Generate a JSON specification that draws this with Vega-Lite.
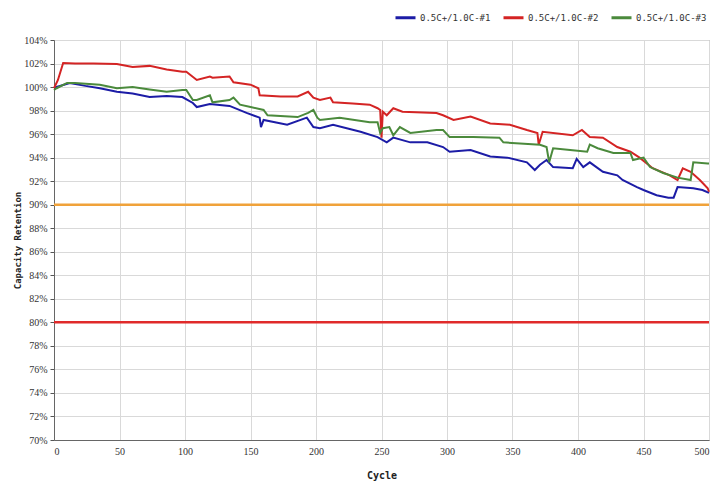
{
  "$schema": "https://vega.github.io/schema/vega-lite/v6.json",
  "width": 655,
  "height": 400,
  "autosize": {"type": "none"},
  "padding": {"left": 54, "top": 40, "right": 12, "bottom": 54},
  "background": "white",
  "config": {
    "view": {"stroke": "#9a9a9a", "strokeWidth": 1},
    "axis": {
      "labelFont": "Liberation Serif",
      "labelFontSize": 10,
      "labelColor": "#333",
      "labelOverlap": false,
      "titleFont": "DejaVu Sans Mono",
      "titleFontWeight": "bold",
      "titleFontSize": 9,
      "titleColor": "#222",
      "gridColor": "#d9d9d9",
      "gridWidth": 1,
      "domainColor": "#666",
      "tickColor": "#555",
      "tickSize": 4
    }
  },
  "datasets": {
    "series": [
      {"s":"0.5C+/1.0C-#1","c":0,"v":99.9},{"s":"0.5C+/1.0C-#1","c":2,"v":100.0},{"s":"0.5C+/1.0C-#1","c":12,"v":100.35},{"s":"0.5C+/1.0C-#1","c":24,"v":100.1},{"s":"0.5C+/1.0C-#1","c":35,"v":99.9},{"s":"0.5C+/1.0C-#1","c":48,"v":99.6},{"s":"0.5C+/1.0C-#1","c":60,"v":99.45},{"s":"0.5C+/1.0C-#1","c":73,"v":99.15},{"s":"0.5C+/1.0C-#1","c":86,"v":99.25},{"s":"0.5C+/1.0C-#1","c":98,"v":99.15},{"s":"0.5C+/1.0C-#1","c":106,"v":98.65},{"s":"0.5C+/1.0C-#1","c":109,"v":98.3},{"s":"0.5C+/1.0C-#1","c":119,"v":98.55},{"s":"0.5C+/1.0C-#1","c":134,"v":98.4},{"s":"0.5C+/1.0C-#1","c":147,"v":97.8},{"s":"0.5C+/1.0C-#1","c":157,"v":97.4},{"s":"0.5C+/1.0C-#1","c":158,"v":96.6},{"s":"0.5C+/1.0C-#1","c":160,"v":97.2},{"s":"0.5C+/1.0C-#1","c":178,"v":96.8},{"s":"0.5C+/1.0C-#1","c":193,"v":97.4},{"s":"0.5C+/1.0C-#1","c":198,"v":96.6},{"s":"0.5C+/1.0C-#1","c":203,"v":96.5},{"s":"0.5C+/1.0C-#1","c":213,"v":96.8},{"s":"0.5C+/1.0C-#1","c":234,"v":96.2},{"s":"0.5C+/1.0C-#1","c":247,"v":95.75},{"s":"0.5C+/1.0C-#1","c":254,"v":95.3},{"s":"0.5C+/1.0C-#1","c":259,"v":95.7},{"s":"0.5C+/1.0C-#1","c":272,"v":95.3},{"s":"0.5C+/1.0C-#1","c":285,"v":95.3},{"s":"0.5C+/1.0C-#1","c":297,"v":94.9},{"s":"0.5C+/1.0C-#1","c":302,"v":94.5},{"s":"0.5C+/1.0C-#1","c":318,"v":94.65},{"s":"0.5C+/1.0C-#1","c":333,"v":94.1},{"s":"0.5C+/1.0C-#1","c":346,"v":94.0},{"s":"0.5C+/1.0C-#1","c":361,"v":93.6},{"s":"0.5C+/1.0C-#1","c":367,"v":92.95},{"s":"0.5C+/1.0C-#1","c":371,"v":93.4},{"s":"0.5C+/1.0C-#1","c":376,"v":93.8},{"s":"0.5C+/1.0C-#1","c":381,"v":93.2},{"s":"0.5C+/1.0C-#1","c":396,"v":93.1},{"s":"0.5C+/1.0C-#1","c":399,"v":93.9},{"s":"0.5C+/1.0C-#1","c":404,"v":93.2},{"s":"0.5C+/1.0C-#1","c":409,"v":93.6},{"s":"0.5C+/1.0C-#1","c":419,"v":92.8},{"s":"0.5C+/1.0C-#1","c":430,"v":92.5},{"s":"0.5C+/1.0C-#1","c":434,"v":92.1},{"s":"0.5C+/1.0C-#1","c":445,"v":91.5},{"s":"0.5C+/1.0C-#1","c":450,"v":91.25},{"s":"0.5C+/1.0C-#1","c":460,"v":90.8},{"s":"0.5C+/1.0C-#1","c":469,"v":90.6},{"s":"0.5C+/1.0C-#1","c":473,"v":90.6},{"s":"0.5C+/1.0C-#1","c":476,"v":91.5},{"s":"0.5C+/1.0C-#1","c":488,"v":91.4},{"s":"0.5C+/1.0C-#1","c":495,"v":91.25},{"s":"0.5C+/1.0C-#1","c":500,"v":91.0},

      {"s":"0.5C+/1.0C-#2","c":0,"v":99.9},{"s":"0.5C+/1.0C-#2","c":3,"v":100.6},{"s":"0.5C+/1.0C-#2","c":7,"v":102.05},{"s":"0.5C+/1.0C-#2","c":16,"v":102.0},{"s":"0.5C+/1.0C-#2","c":30,"v":102.0},{"s":"0.5C+/1.0C-#2","c":48,"v":101.95},{"s":"0.5C+/1.0C-#2","c":60,"v":101.7},{"s":"0.5C+/1.0C-#2","c":73,"v":101.8},{"s":"0.5C+/1.0C-#2","c":86,"v":101.5},{"s":"0.5C+/1.0C-#2","c":98,"v":101.3},{"s":"0.5C+/1.0C-#2","c":101,"v":101.3},{"s":"0.5C+/1.0C-#2","c":109,"v":100.6},{"s":"0.5C+/1.0C-#2","c":119,"v":100.9},{"s":"0.5C+/1.0C-#2","c":121,"v":100.8},{"s":"0.5C+/1.0C-#2","c":134,"v":100.9},{"s":"0.5C+/1.0C-#2","c":137,"v":100.4},{"s":"0.5C+/1.0C-#2","c":150,"v":100.2},{"s":"0.5C+/1.0C-#2","c":156,"v":99.9},{"s":"0.5C+/1.0C-#2","c":157,"v":99.3},{"s":"0.5C+/1.0C-#2","c":173,"v":99.2},{"s":"0.5C+/1.0C-#2","c":186,"v":99.2},{"s":"0.5C+/1.0C-#2","c":194,"v":99.6},{"s":"0.5C+/1.0C-#2","c":198,"v":99.1},{"s":"0.5C+/1.0C-#2","c":203,"v":98.9},{"s":"0.5C+/1.0C-#2","c":211,"v":99.1},{"s":"0.5C+/1.0C-#2","c":213,"v":98.7},{"s":"0.5C+/1.0C-#2","c":228,"v":98.6},{"s":"0.5C+/1.0C-#2","c":241,"v":98.5},{"s":"0.5C+/1.0C-#2","c":247,"v":98.2},{"s":"0.5C+/1.0C-#2","c":249,"v":98.05},{"s":"0.5C+/1.0C-#2","c":250,"v":95.7},{"s":"0.5C+/1.0C-#2","c":251,"v":97.9},{"s":"0.5C+/1.0C-#2","c":254,"v":97.6},{"s":"0.5C+/1.0C-#2","c":259,"v":98.2},{"s":"0.5C+/1.0C-#2","c":266,"v":97.9},{"s":"0.5C+/1.0C-#2","c":292,"v":97.8},{"s":"0.5C+/1.0C-#2","c":297,"v":97.6},{"s":"0.5C+/1.0C-#2","c":305,"v":97.2},{"s":"0.5C+/1.0C-#2","c":318,"v":97.5},{"s":"0.5C+/1.0C-#2","c":333,"v":96.9},{"s":"0.5C+/1.0C-#2","c":348,"v":96.8},{"s":"0.5C+/1.0C-#2","c":361,"v":96.35},{"s":"0.5C+/1.0C-#2","c":369,"v":96.1},{"s":"0.5C+/1.0C-#2","c":370,"v":95.1},{"s":"0.5C+/1.0C-#2","c":373,"v":96.2},{"s":"0.5C+/1.0C-#2","c":396,"v":95.9},{"s":"0.5C+/1.0C-#2","c":403,"v":96.35},{"s":"0.5C+/1.0C-#2","c":409,"v":95.75},{"s":"0.5C+/1.0C-#2","c":419,"v":95.7},{"s":"0.5C+/1.0C-#2","c":430,"v":94.9},{"s":"0.5C+/1.0C-#2","c":440,"v":94.5},{"s":"0.5C+/1.0C-#2","c":447,"v":94.0},{"s":"0.5C+/1.0C-#2","c":457,"v":93.1},{"s":"0.5C+/1.0C-#2","c":470,"v":92.5},{"s":"0.5C+/1.0C-#2","c":476,"v":92.1},{"s":"0.5C+/1.0C-#2","c":480,"v":93.1},{"s":"0.5C+/1.0C-#2","c":486,"v":92.8},{"s":"0.5C+/1.0C-#2","c":493,"v":92.1},{"s":"0.5C+/1.0C-#2","c":499,"v":91.4},{"s":"0.5C+/1.0C-#2","c":500,"v":91.1},

      {"s":"0.5C+/1.0C-#3","c":0,"v":99.75},{"s":"0.5C+/1.0C-#3","c":2,"v":99.9},{"s":"0.5C+/1.0C-#3","c":10,"v":100.35},{"s":"0.5C+/1.0C-#3","c":16,"v":100.35},{"s":"0.5C+/1.0C-#3","c":35,"v":100.2},{"s":"0.5C+/1.0C-#3","c":48,"v":99.9},{"s":"0.5C+/1.0C-#3","c":60,"v":100.0},{"s":"0.5C+/1.0C-#3","c":73,"v":99.8},{"s":"0.5C+/1.0C-#3","c":86,"v":99.6},{"s":"0.5C+/1.0C-#3","c":98,"v":99.75},{"s":"0.5C+/1.0C-#3","c":101,"v":99.75},{"s":"0.5C+/1.0C-#3","c":106,"v":98.9},{"s":"0.5C+/1.0C-#3","c":109,"v":98.9},{"s":"0.5C+/1.0C-#3","c":119,"v":99.3},{"s":"0.5C+/1.0C-#3","c":121,"v":98.7},{"s":"0.5C+/1.0C-#3","c":134,"v":98.9},{"s":"0.5C+/1.0C-#3","c":137,"v":99.1},{"s":"0.5C+/1.0C-#3","c":142,"v":98.5},{"s":"0.5C+/1.0C-#3","c":150,"v":98.3},{"s":"0.5C+/1.0C-#3","c":160,"v":98.05},{"s":"0.5C+/1.0C-#3","c":163,"v":97.6},{"s":"0.5C+/1.0C-#3","c":186,"v":97.45},{"s":"0.5C+/1.0C-#3","c":194,"v":97.8},{"s":"0.5C+/1.0C-#3","c":198,"v":98.05},{"s":"0.5C+/1.0C-#3","c":201,"v":97.4},{"s":"0.5C+/1.0C-#3","c":203,"v":97.2},{"s":"0.5C+/1.0C-#3","c":218,"v":97.4},{"s":"0.5C+/1.0C-#3","c":241,"v":97.0},{"s":"0.5C+/1.0C-#3","c":247,"v":97.0},{"s":"0.5C+/1.0C-#3","c":249,"v":96.1},{"s":"0.5C+/1.0C-#3","c":251,"v":96.5},{"s":"0.5C+/1.0C-#3","c":256,"v":96.6},{"s":"0.5C+/1.0C-#3","c":259,"v":95.9},{"s":"0.5C+/1.0C-#3","c":264,"v":96.6},{"s":"0.5C+/1.0C-#3","c":272,"v":96.1},{"s":"0.5C+/1.0C-#3","c":292,"v":96.35},{"s":"0.5C+/1.0C-#3","c":297,"v":96.35},{"s":"0.5C+/1.0C-#3","c":302,"v":95.75},{"s":"0.5C+/1.0C-#3","c":320,"v":95.75},{"s":"0.5C+/1.0C-#3","c":340,"v":95.7},{"s":"0.5C+/1.0C-#3","c":343,"v":95.3},{"s":"0.5C+/1.0C-#3","c":371,"v":95.1},{"s":"0.5C+/1.0C-#3","c":376,"v":94.9},{"s":"0.5C+/1.0C-#3","c":378,"v":93.6},{"s":"0.5C+/1.0C-#3","c":381,"v":94.8},{"s":"0.5C+/1.0C-#3","c":394,"v":94.65},{"s":"0.5C+/1.0C-#3","c":407,"v":94.5},{"s":"0.5C+/1.0C-#3","c":409,"v":95.1},{"s":"0.5C+/1.0C-#3","c":415,"v":94.8},{"s":"0.5C+/1.0C-#3","c":427,"v":94.4},{"s":"0.5C+/1.0C-#3","c":440,"v":94.4},{"s":"0.5C+/1.0C-#3","c":442,"v":93.8},{"s":"0.5C+/1.0C-#3","c":450,"v":94.0},{"s":"0.5C+/1.0C-#3","c":455,"v":93.2},{"s":"0.5C+/1.0C-#3","c":465,"v":92.7},{"s":"0.5C+/1.0C-#3","c":476,"v":92.3},{"s":"0.5C+/1.0C-#3","c":486,"v":92.1},{"s":"0.5C+/1.0C-#3","c":488,"v":93.6},{"s":"0.5C+/1.0C-#3","c":499,"v":93.5},{"s":"0.5C+/1.0C-#3","c":500,"v":93.5}
    ]
  },
  "encoding": {
    "y": {
      "field": "v", "type": "quantitative", "title": "Capacity Retention",
      "scale": {"domain": [70, 104], "nice": false, "zero": false},
      "axis": {"values": [70,72,74,76,78,80,82,84,86,88,90,92,94,96,98,100,102,104], "labelOverlap": false, "labelExpr": "datum.value + '%'", "titlePadding": 1, "labelPadding": 3}
    }
  },
  "layer": [
    {
      "data": {"name": "series"},
      "mark": {"type": "line", "strokeWidth": 2, "interpolate": "linear"},
      "encoding": {
        "x": {
          "field": "c", "type": "quantitative", "title": "Cycle",
          "scale": {"domain": [0, 500], "nice": false},
          "axis": {"values": [0,50,100,150,200,250,300,350,400,450,500], "titlePadding": 14, "titleFontSize": 10, "labelPadding": 6, "tickSize": 0}
        },
        "color": {
          "field": "s", "type": "nominal",
          "scale": {"domain": ["0.5C+/1.0C-#1", "0.5C+/1.0C-#2", "0.5C+/1.0C-#3"], "range": ["#1c1ca6", "#d42424", "#4b8a3c"]},
          "legend": {
            "title": null, "orient": "none", "direction": "horizontal",
            "legendX": 340, "legendY": -34,
            "symbolType": "stroke", "symbolStrokeWidth": 3, "symbolSize": 400,
            "labelFont": "DejaVu Sans Mono", "labelFontSize": 9, "labelColor": "#333",
            "columnPadding": 6, "symbolOffset": 0, "labelOffset": 3
          }
        },
        "detail": {"field": "s"}
      }
    },
    {
      "data": {"values": [{"v": 90}]},
      "mark": {"type": "rule", "color": "#f0a23a", "strokeWidth": 2.5},
      "encoding": {}
    },
    {
      "data": {"values": [{"v": 80}]},
      "mark": {"type": "rule", "color": "#e02a2a", "strokeWidth": 2.5},
      "encoding": {}
    }
  ]
}
